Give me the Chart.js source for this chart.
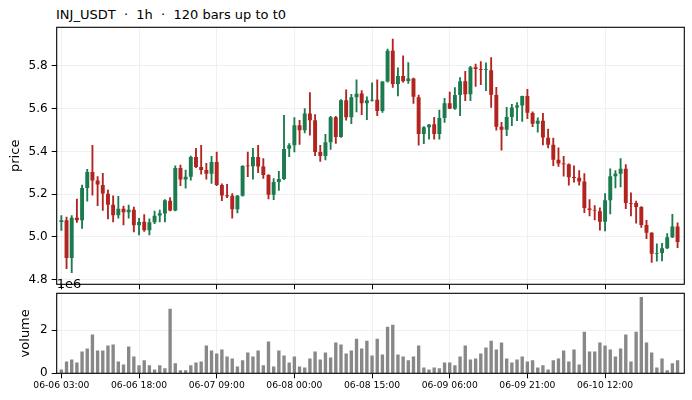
<!DOCTYPE html>
<html>
<head>
<meta charset="utf-8">
<script src="https://cdn.jsdelivr.net/npm/chart.js@4.4.1/dist/chart.umd.min.js"></script>
<style>
  body { margin: 0; background: #fff; width: 692px; height: 400px; overflow: hidden; position: relative; }
  #title { position: absolute; left: 56px; top: 7px; font: 13px "DejaVu Sans", sans-serif; color: #000; white-space: pre; }
  #priceBox { position: absolute; left: 0; top: 0; width: 692px; height: 290px; }
  #volBox { position: absolute; left: 0; top: 275px; width: 692px; height: 125px; }
</style>
</head>
<body>
<div id="title">INJ_USDT  ·  1h  ·  120 bars up to t0</div>
<div id="priceBox"><canvas id="price"></canvas></div>
<div id="volBox"><canvas id="volume"></canvas></div>

<script>
/* ── Data ──────────────────────────────────────────────────── */
const opens = [
  5.070, 5.078, 4.901, 5.090, 5.078, 5.229, 5.304, 5.264, 5.243, 5.202,
  5.150, 5.101, 5.132, 5.115, 5.127, 5.054, 5.071, 5.031, 5.068, 5.100,
  5.109, 5.169, 5.124, 5.322, 5.268, 5.281, 5.374, 5.327, 5.313, 5.295,
  5.350, 5.243, 5.195, 5.192, 5.129, 5.192, 5.334, 5.330, 5.374, 5.329,
  5.290, 5.197, 5.257, 5.271, 5.412, 5.429, 5.522, 5.499, 5.578, 5.546,
  5.397, 5.378, 5.443, 5.560, 5.467, 5.639, 5.560, 5.653, 5.671, 5.626,
  5.638, 5.642, 5.589, 5.727, 5.871, 5.716, 5.753, 5.730, 5.741, 5.654,
  5.482, 5.513, 5.527, 5.482, 5.557, 5.626, 5.600, 5.664, 5.729, 5.668,
  5.794, 5.785, 5.781, 5.780, 5.664, 5.515, 5.501, 5.561, 5.606, 5.615,
  5.659, 5.580, 5.530, 5.543, 5.464, 5.431, 5.361, 5.343, 5.340, 5.280,
  5.277, 5.259, 5.133, 5.126, 5.120, 5.071, 5.171, 5.284, 5.296, 5.319,
  5.158, 5.158, 5.140, 5.056, 5.019, 4.921, 4.924, 4.947, 4.998, 5.049,
];
const highs = [
  5.100, 5.093, 5.100, 5.177, 5.243, 5.316, 5.429, 5.282, 5.298, 5.219,
  5.192, 5.190, 5.144, 5.149, 5.140, 5.087, 5.104, 5.084, 5.121, 5.125,
  5.175, 5.184, 5.332, 5.336, 5.313, 5.378, 5.414, 5.429, 5.344, 5.377,
  5.397, 5.248, 5.246, 5.203, 5.195, 5.334, 5.397, 5.414, 5.428, 5.367,
  5.292, 5.273, 5.307, 5.569, 5.437, 5.558, 5.546, 5.600, 5.676, 5.572,
  5.429, 5.480, 5.564, 5.564, 5.643, 5.688, 5.667, 5.735, 5.685, 5.656,
  5.721, 5.735, 5.727, 5.879, 5.926, 5.791, 5.847, 5.816, 5.743, 5.664,
  5.516, 5.527, 5.559, 5.594, 5.648, 5.678, 5.699, 5.746, 5.775, 5.798,
  5.809, 5.820, 5.815, 5.839, 5.700, 5.536, 5.606, 5.620, 5.629, 5.659,
  5.691, 5.585, 5.557, 5.578, 5.504, 5.462, 5.417, 5.377, 5.342, 5.333,
  5.310, 5.296, 5.175, 5.146, 5.136, 5.203, 5.318, 5.310, 5.366, 5.338,
  5.206, 5.167, 5.142, 5.077, 5.020, 4.967, 4.970, 5.015, 5.105, 5.066,
];
const lows = [
  5.030, 4.851, 4.833, 5.068, 5.040, 5.167, 5.195, 5.146, 5.124, 5.084,
  5.070, 5.088, 5.056, 5.087, 5.023, 5.009, 5.026, 5.009, 5.062, 5.070,
  5.070, 5.121, 5.122, 5.240, 5.228, 5.265, 5.324, 5.293, 5.270, 5.250,
  5.240, 5.170, 5.183, 5.088, 5.112, 5.190, 5.282, 5.270, 5.300, 5.274,
  5.178, 5.174, 5.217, 5.268, 5.375, 5.398, 5.433, 5.487, 5.476, 5.380,
  5.353, 5.360, 5.409, 5.437, 5.465, 5.546, 5.530, 5.585, 5.572, 5.549,
  5.635, 5.567, 5.583, 5.724, 5.700, 5.660, 5.724, 5.718, 5.625, 5.429,
  5.436, 5.457, 5.457, 5.457, 5.536, 5.600, 5.597, 5.567, 5.637, 5.637,
  5.704, 5.712, 5.684, 5.606, 5.500, 5.406, 5.474, 5.521, 5.544, 5.541,
  5.553, 5.516, 5.490, 5.431, 5.416, 5.333, 5.330, 5.284, 5.242, 5.256,
  5.242, 5.113, 5.098, 5.079, 5.031, 5.028, 5.107, 5.229, 5.234, 5.132,
  5.098, 5.064, 5.044, 4.992, 4.881, 4.886, 4.888, 4.945, 4.996, 4.949,
];
const closes = [
  5.078, 4.901, 5.090, 5.078, 5.229, 5.304, 5.264, 5.245, 5.203, 5.150,
  5.101, 5.132, 5.115, 5.127, 5.054, 5.070, 5.031, 5.068, 5.099, 5.110,
  5.171, 5.124, 5.322, 5.268, 5.281, 5.374, 5.327, 5.313, 5.295, 5.350,
  5.243, 5.194, 5.190, 5.129, 5.192, 5.332, 5.330, 5.374, 5.329, 5.290,
  5.197, 5.257, 5.271, 5.411, 5.429, 5.522, 5.499, 5.578, 5.546, 5.397,
  5.378, 5.443, 5.560, 5.467, 5.639, 5.560, 5.653, 5.670, 5.626, 5.639,
  5.642, 5.589, 5.727, 5.871, 5.716, 5.753, 5.729, 5.741, 5.656, 5.482,
  5.513, 5.525, 5.482, 5.557, 5.626, 5.600, 5.664, 5.729, 5.668, 5.794,
  5.786, 5.781, 5.785, 5.665, 5.516, 5.501, 5.561, 5.606, 5.615, 5.659,
  5.581, 5.529, 5.543, 5.465, 5.431, 5.361, 5.343, 5.340, 5.279, 5.276,
  5.259, 5.135, 5.126, 5.123, 5.071, 5.171, 5.284, 5.296, 5.319, 5.158,
  5.155, 5.140, 5.056, 5.019, 4.921, 4.924, 4.947, 4.998, 5.049, 4.976,
];
const volumes = [
  180000, 550000, 640000, 500000, 1010000, 1150000, 1790000, 1050000, 1050000, 1280000,
  1330000, 550000, 410000, 1240000, 780000, 370000, 600000, 370000, 180000, 370000,
  230000, 2980000, 460000, 140000, 140000, 370000, 500000, 550000, 1280000, 1050000,
  920000, 1100000, 780000, 690000, 320000, 600000, 960000, 780000, 1050000, 370000,
  1470000, 320000, 1050000, 820000, 500000, 780000, 320000, 270000, 690000, 1010000,
  640000, 960000, 730000, 1420000, 1330000, 920000, 1050000, 1600000, 1150000, 1510000,
  820000, 1600000, 870000, 2150000, 2240000, 870000, 780000, 600000, 780000, 1280000,
  270000, 180000, 270000, 230000, 500000, 500000, 370000, 780000, 1280000, 640000,
  690000, 920000, 1190000, 1510000, 1100000, 1420000, 690000, 500000, 640000, 780000,
  550000, 600000, 270000, 370000, 180000, 600000, 690000, 1050000, 550000, 1100000,
  410000, 1920000, 1010000, 1010000, 1420000, 1280000, 1100000, 780000, 1150000, 1790000,
  550000, 1920000, 3530000, 1420000, 960000, 270000, 690000, 140000, 460000, 600000,
];

/* tick positions (bar index) and their labels */
const xTickIndex = [0, 15, 30, 45, 60, 75, 90, 105];
const xTickLabels = [
  "06-06 03:00", "06-06 18:00", "06-07 09:00", "06-08 00:00",
  "06-08 15:00", "06-09 06:00", "06-09 21:00", "06-10 12:00",
];
const priceTicks = [4.8, 5.0, 5.2, 5.4, 5.6, 5.8];
const volumeTicks = [0, 2000000];

/* ── Styles ───────────────────────────────────────────────── */
const GREEN = "#1c7b4e";
const RED = "#b1241f";
const VOL_GREY = "#888888";
const GRID = "#ececec";
const FONT = "'DejaVu Sans', sans-serif";

Chart.defaults.font.family = FONT;
Chart.defaults.color = "#000";

const X_MIN = -0.9, X_MAX = 120.3;

const idx = opens.map((_, i) => i);
const candleColor = idx.map((i) => (closes[i] >= opens[i] ? GREEN : RED));

/* full black frame around each panel */
const framePlugin = {
  id: "frame",
  afterDraw(chart) {
    const { ctx, chartArea: a } = chart;
    ctx.save();
    ctx.strokeStyle = "#000";
    ctx.lineWidth = 1.1;
    ctx.strokeRect(a.left, a.top, a.right - a.left, a.bottom - a.top);
    ctx.restore();
  },
};

/* "1e6" offset label above the volume panel */
const offsetTextPlugin = {
  id: "offsetText",
  afterDraw(chart) {
    const { ctx, chartArea: a } = chart;
    ctx.save();
    ctx.fillStyle = "#000";
    ctx.font = "13px " + FONT;
    ctx.textBaseline = "middle";
    ctx.textAlign = "left";
    ctx.fillText("1e6", a.left, a.top - 9);
    ctx.restore();
  },
};

/* y axis: fixed width, and no extra room for the end labels */
const fixY = (s) => {
  s.width = 56.7;
  s.paddingTop = 0;
  s.paddingBottom = 0;
};

const xScaleBase = (showLabels, height) => ({
  type: "linear",
  min: X_MIN,
  max: X_MAX,
  offset: false,
  grid: { color: GRID, lineWidth: 0.8, tickColor: "#000", tickLength: 5, tickWidth: 1, offset: false },
  border: { display: false },
  ticks: {
    display: showLabels,
    autoSkip: false,
    maxRotation: 0,
    padding: 2,
    font: { size: 9.2 },
    callback: (v, i) => xTickLabels[i],
  },
  afterBuildTicks: (s) => { s.ticks = xTickIndex.map((v) => ({ value: v })); },
  afterFit: (s) => {
    s.height = height;
    s.paddingLeft = 0;
    s.paddingRight = 0;
  },
});

/* ── Price panel ──────────────────────────────────────────── */
new Chart(document.getElementById("price"), {
  type: "bar",
  data: {
    datasets: [
      {
        label: "wick",
        data: idx.map((i) => ({ x: i, y: [lows[i], highs[i]] })),
        backgroundColor: candleColor,
        grouped: false,
        categoryPercentage: 1,
        barPercentage: 1,
        maxBarThickness: 1.2,
        order: 2,
      },
      {
        label: "body",
        data: idx.map((i) => ({ x: i, y: [opens[i], closes[i]] })),
        backgroundColor: candleColor,
        grouped: false,
        categoryPercentage: 1,
        barPercentage: 0.76,
        order: 1,
      },
    ],
  },
  options: {
    responsive: true,
    maintainAspectRatio: false,
    animation: false,
    layout: { padding: { left: 0, right: 7.7, top: 27.3, bottom: 0 } },
    plugins: { legend: { display: false }, tooltip: { enabled: false } },
    scales: {
      x: xScaleBase(false, 290 - 284.3),
      y: {
        type: "linear",
        min: 4.778,
        max: 5.981,
        beginAtZero: false,
        grid: { color: GRID, lineWidth: 0.8, tickColor: "#000", tickLength: 5, tickWidth: 1 },
        border: { display: false },
        ticks: { font: { size: 12 }, padding: 4, callback: (v) => v.toFixed(1) },
        afterBuildTicks: (s) => { s.ticks = priceTicks.map((v) => ({ value: v })); },
        afterFit: fixY,
        title: { display: true, text: "price", font: { size: 13 }, padding: { top: 8, bottom: 0 } },
      },
    },
  },
  plugins: [framePlugin],
});

/* ── Volume panel ─────────────────────────────────────────── */
new Chart(document.getElementById("volume"), {
  type: "bar",
  data: {
    datasets: [
      {
        label: "volume",
        data: idx.map((i) => ({ x: i, y: volumes[i] })),
        backgroundColor: VOL_GREY,
        grouped: false,
        categoryPercentage: 1,
        barPercentage: 0.65,
      },
    ],
  },
  options: {
    responsive: true,
    maintainAspectRatio: false,
    animation: false,
    layout: { padding: { left: 0, right: 7.7, top: 18.3, bottom: 0 } },
    plugins: { legend: { display: false }, tooltip: { enabled: false } },
    scales: {
      x: xScaleBase(true, 125 - 98.3),
      y: {
        type: "linear",
        min: 0,
        max: 3700000,
        grid: { color: GRID, lineWidth: 0.8, tickColor: "#000", tickLength: 5, tickWidth: 1 },
        border: { display: false },
        ticks: { font: { size: 12 }, padding: 4, callback: (v) => (v / 1e6).toFixed(0) },
        afterBuildTicks: (s) => { s.ticks = volumeTicks.map((v) => ({ value: v })); },
        afterFit: fixY,
        title: { display: true, text: "volume", font: { size: 13 }, padding: { top: 18, bottom: 0 } },
      },
    },
  },
  plugins: [framePlugin, offsetTextPlugin],
});
</script>
</body>
</html>
